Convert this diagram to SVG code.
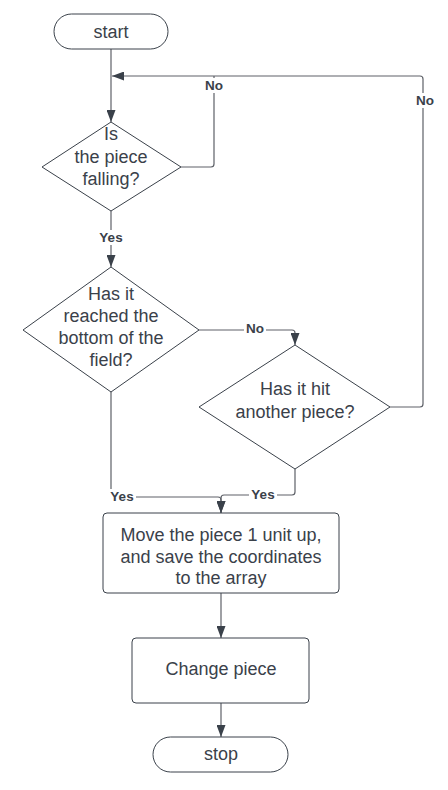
<svg xmlns="http://www.w3.org/2000/svg" width="448" height="790" viewBox="0 0 448 790">
<style>
.shape{fill:#ffffff;stroke:#3a414a;stroke-width:1}
.t{font-family:"Liberation Sans",Arial,sans-serif;font-size:18px;fill:#3a414a;text-anchor:middle}
.c{fill:none;stroke:#5e6168;stroke-width:1.2}
.lbl{font-family:"Liberation Sans",Arial,sans-serif;font-size:13.5px;font-weight:bold;fill:#3a414a;text-anchor:middle}
.lb{fill:#ffffff}
</style>
<defs>
<marker id="ah" markerWidth="12" markerHeight="9" refX="12" refY="4.5" orient="auto" markerUnits="userSpaceOnUse">
<path d="M0,0 L12,4.5 L0,9 Z" fill="#3a414a"/>
</marker>
</defs>
<rect width="448" height="790" fill="#ffffff"/>
<g id="connectors">
<path class="c" d="M111 49 V122" marker-end="url(#ah)"/>
<path class="c" d="M181 167 H211 Q214 167 214 164 V76"/>
<path class="c" d="M390 407 H420 Q423 407 423 404 V79 Q423 76 420 76 H112" marker-end="url(#ah)"/>
<path class="c" d="M111 211 V267" marker-end="url(#ah)"/>
<path class="c" d="M199 330 H292 Q295 330 295 333 V345" marker-end="url(#ah)"/>
<path class="c" d="M111 392 V494 Q111 497 114 497 H218 Q221 497 221 500 V513" marker-end="url(#ah)"/>
<path class="c" d="M295 469 V492 Q295 495 292 495 H224 Q221 495 221 498 V513" marker-end="url(#ah)"/>
<path class="c" d="M221 593 V638" marker-end="url(#ah)"/>
<path class="c" d="M221 703 V737" marker-end="url(#ah)"/>
<rect class="lb" x="202" y="78" width="24" height="15"/>
<text class="lbl" x="214" y="90">No</text>
<rect class="lb" x="413" y="93" width="24" height="15"/>
<text class="lbl" x="425" y="105">No</text>
<rect class="lb" x="97" y="230" width="28" height="15"/>
<text class="lbl" x="111" y="242">Yes</text>
<rect class="lb" x="244" y="321" width="22" height="15"/>
<text class="lbl" x="255" y="333">No</text>
<rect class="lb" x="108" y="489" width="28" height="15"/>
<text class="lbl" x="122" y="501">Yes</text>
<rect class="lb" x="249" y="487" width="28" height="15"/>
<text class="lbl" x="263" y="499">Yes</text>
</g>
<g id="start">
<rect class="shape" x="54" y="14" width="114" height="35" rx="17.5"/>
<text class="t" x="111" y="38">start</text>
</g>
<g id="falling">
<path class="shape" d="M111 122 L181 167 L111 211 L42 167 Z"/>
<text class="t" x="111" y="140">Is</text>
<text class="t" x="111" y="163">the piece</text>
<text class="t" x="111" y="185">falling?</text>
</g>
<g id="reached">
<path class="shape" d="M111 267 L199 330 L111 392 L23 330 Z"/>
<text class="t" x="111" y="300">Has it</text>
<text class="t" x="111" y="322">reached the</text>
<text class="t" x="111" y="344">bottom of the</text>
<text class="t" x="111" y="366">field?</text>
</g>
<g id="hit">
<path class="shape" d="M295 345 L390 407 L295 469 L199 407 Z"/>
<text class="t" x="295" y="395">Has it hit</text>
<text class="t" x="295" y="418">another piece?</text>
</g>
<g id="move">
<rect class="shape" x="103" y="513" width="236" height="80" rx="4"/>
<text class="t" x="221" y="541">Move the piece 1 unit up,</text>
<text class="t" x="221" y="563">and save the coordinates</text>
<text class="t" x="221" y="584">to the array</text>
</g>
<g id="change">
<rect class="shape" x="132" y="638" width="177" height="65" rx="4"/>
<text class="t" x="221" y="675">Change piece</text>
</g>
<g id="stop">
<rect class="shape" x="153" y="737" width="135" height="35" rx="17.5"/>
<text class="t" x="221" y="760">stop</text>
</g>
</svg>
